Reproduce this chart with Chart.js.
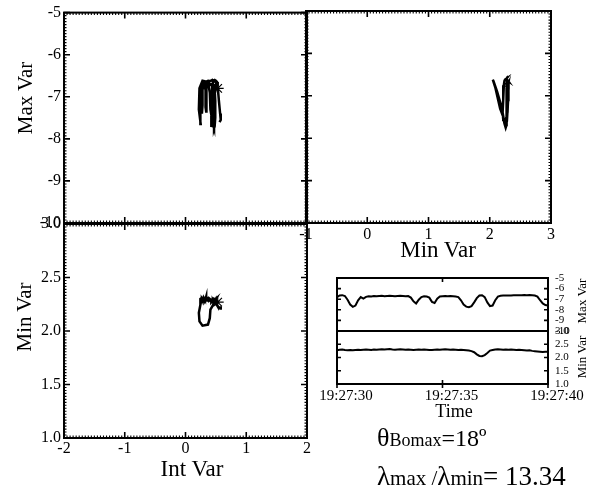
<!DOCTYPE html>
<html><head><meta charset="utf-8">
<script src="https://cdn.jsdelivr.net/npm/chart.js@4.4.1/dist/chart.umd.min.js"></script>
<style>
html,body{margin:0;padding:0;background:#fff;width:595px;height:495px;overflow:hidden;position:relative;}
canvas{position:absolute;left:0;top:0;}
.t{position:absolute;font-family:"Liberation Serif","Times New Roman",serif;color:#000;white-space:nowrap;line-height:1;}
.c{transform:translate(-50%,-50%);}
.r{transform:translate(-50%,-50%) rotate(-90deg);}
</style></head><body>
<canvas id="cTL" width="595" height="495"></canvas>
<canvas id="cTR" width="595" height="495"></canvas>
<canvas id="cBL" width="595" height="495"></canvas>
<canvas id="cI1" width="595" height="495"></canvas>
<canvas id="cI2" width="595" height="495"></canvas>

<div class="t r" style="left:25px;top:98px;font-size:21px;">Max Var</div>
<div class="t r" style="left:24px;top:317px;font-size:21px;">Min Var</div>
<div class="t c" style="left:192px;top:468px;font-size:23px;">Int Var</div>
<div class="t c" style="left:438px;top:249px;font-size:23px;">Min Var</div>
<div class="t r" style="left:581px;top:301px;font-size:13px;">Max Var</div>
<div class="t r" style="left:581px;top:357px;font-size:13px;">Min Var</div>
<div class="t c" style="left:454px;top:411px;font-size:18px;">Time</div>
<div class="t" style="left:377px;top:425px;"><span style="font-size:26px">θ</span><span style="font-size:18px">Bomax</span><span style="font-size:24px">=18º</span></div>
<div class="t" style="left:377px;top:463px;"><span style="font-size:27px">λ</span><span style="font-size:21px">max /</span><span style="font-size:27px">λ</span><span style="font-size:21px">min</span><span style="font-size:27px">= 13.34</span></div>

<script>
// ---- data ----
const timeSec = [0,0.125,0.25,0.375,0.5,0.625,0.75,0.875,1,1.125,1.25,1.375,1.5,1.625,1.75,1.875,2,2.125,2.25,2.375,2.5,2.625,2.75,2.875,3,3.125,3.25,3.375,3.5,3.625,3.75,3.875,4,4.125,4.25,4.375,4.5,4.625,4.75,4.875,5,5.125,5.25,5.375,5.5,5.625,5.75,5.875,6,6.125,6.25,6.375,6.5,6.625,6.75,6.875,7,7.125,7.25,7.375,7.5,7.625,7.75,7.875,8,8.125,8.25,8.375,8.5,8.625,8.75,8.875,9,9.125,9.25,9.375,9.5,9.625,9.75,9.875,10];
const maxVar = [-6.80,-6.65,-6.62,-6.70,-7.05,-7.50,-7.72,-7.60,-7.10,-6.80,
 -6.95,-6.78,-6.72,-6.75,-6.70,-6.72,-6.70,-6.68,-6.72,-6.70,
 -6.68,-6.70,-6.72,-6.70,-6.68,-6.70,-6.72,-6.70,-6.85,-7.20,
 -7.40,-7.05,-6.80,-6.72,-6.75,-6.85,-7.25,-7.35,-6.95,-6.75,
 -6.72,-6.70,-6.72,-6.70,-6.72,-6.75,-6.80,-7.10,-7.50,-7.70,
 -7.75,-7.65,-7.30,-6.90,-6.65,-6.62,-6.80,-7.30,-7.65,-7.60,
 -7.10,-6.75,-6.68,-6.66,-6.65,-6.64,-6.65,-6.63,-6.62,-6.63,
 -6.62,-6.60,-6.62,-6.60,-6.62,-6.65,-6.75,-7.10,-7.40,-7.55,
 -7.60];
const intVar = [0.53,0.50,0.47,0.44,0.43,0.42,0.43,0.44,0.45,0.46,
 0.48,0.50,0.49,0.47,0.45,0.42,0.40,0.38,0.36,0.35,
 0.34,0.33,0.32,0.31,0.30,0.30,0.29,0.29,0.28,0.28,
 0.27,0.27,0.28,0.30,0.32,0.33,0.33,0.34,0.34,0.35,
 0.36,0.38,0.40,0.42,0.45,0.47,0.48,0.49,0.49,0.48,
 0.47,0.45,0.41,0.40,0.37,0.28,0.23,0.22,0.25,0.24,
 0.25,0.27,0.29,0.30,0.31,0.32,0.34,0.36,0.38,0.40,
 0.42,0.44,0.46,0.48,0.50,0.52,0.53,0.55,0.57,0.58,
 0.56];
const minVar = [2.27,2.29,2.30,2.28,2.27,2.28,2.27,2.28,2.29,2.28,
 2.29,2.30,2.29,2.28,2.30,2.29,2.30,2.31,2.30,2.31,
 2.32,2.30,2.29,2.30,2.31,2.30,2.29,2.30,2.29,2.28,
 2.29,2.30,2.29,2.30,2.29,2.28,2.28,2.29,2.30,2.29,
 2.30,2.31,2.30,2.29,2.30,2.29,2.28,2.29,2.28,2.27,
 2.26,2.24,2.20,2.12,2.06,2.05,2.09,2.17,2.26,2.28,
 2.30,2.31,2.30,2.29,2.30,2.29,2.30,2.29,2.28,2.29,
 2.28,2.27,2.26,2.27,2.25,2.24,2.23,2.22,2.21,2.22,
 2.22];
// tick values / labels
const intTicks = [-2,-1,0,1,2];
const minHodoTicks = [-1,0,1,2,3];
const maxTicks = [-10,-9,-8,-7,-6,-5];
const minTicks = [1.0,1.5,2.0,2.5,3.0];
const timeTicks = [0,5,10];
const timeLabels = ['19:27:30','19:27:35','19:27:40'];

// ---- helpers ----
const F = '"Liberation Serif","Times New Roman",serif';
Chart.defaults.animation = false;
Chart.defaults.responsive = false;
Chart.defaults.events = [];
Chart.defaults.plugins.legend.display = false;
Chart.defaults.plugins.tooltip.enabled = false;
Chart.defaults.color = '#000';

const fixW = w => s => { s.width = w; };
const fixH = h => s => { s.height = h; };
const setTicks = arr => s => { s.ticks = arr.map(v => ({value: v})); };

const framePlugin = {
  id: 'frame',
  afterDatasetsDraw(chart, args, o) {
    if (!o || !o.axes) return;
    const {ctx, chartArea: a} = chart;
    ctx.save();
    ctx.strokeStyle = '#000';
    for (const ax of o.axes) {
      const s = chart.scales[ax.id];
      const m = ax.majors;
      const list = [];
      for (let i = 0; i < m.length; i++) {
        list.push([m[i], ax.major, true]);
        if (i < m.length - 1 && ax.minor) {
          for (let k = 1; k < ax.minor; k++) list.push([m[i] + (m[i+1]-m[i])*k/ax.minor, ax.minorLen, false]);
        }
      }
      for (const [v, len, isMaj] of list) {
        const p = s.getPixelForValue(v);
        ctx.lineWidth = isMaj ? 1.6 : 1.1;
        ctx.beginPath();
        for (const side of ax.sides) {
          if (side === 'top') { ctx.moveTo(p, a.top); ctx.lineTo(p, a.top + len); }
          if (side === 'bottom') { ctx.moveTo(p, a.bottom); ctx.lineTo(p, a.bottom - len); }
          if (side === 'bottomOut' && isMaj) { ctx.moveTo(p, a.bottom); ctx.lineTo(p, a.bottom + len); }
          if (side === 'left') { ctx.moveTo(a.left, p); ctx.lineTo(a.left + len, p); }
          if (side === 'right') { ctx.moveTo(a.right, p); ctx.lineTo(a.right - len, p); }
        }
        ctx.stroke();
      }
    }
    ctx.lineWidth = o.lw || 2;
    ctx.strokeRect(a.left, a.top, a.right - a.left, a.bottom - a.top);
    ctx.restore();
  }
};
Chart.register(framePlugin);

const noGrid = {display: false, drawTicks: false};
const noBorder = {display: false};

function pts(xs, ys) { return xs.map((x, i) => ({x: x, y: ys[i]})); }
function lineDs(data, w) {
  return {type: 'scatter', data, showLine: true, borderColor: '#000', borderWidth: w, pointRadius: 0, tension: 0, fill: false};
}
function starDs(x, y) {
  return {type: 'scatter', data: [{x, y}], showLine: false, pointStyle: 'star', pointRadius: 6, borderColor: '#000', borderWidth: 1.2, backgroundColor: '#000'};
}

// ---- Top-left: Max Var vs Int Var ----
new Chart(document.getElementById('cTL'), {
  type: 'scatter',
  data: {datasets: [lineDs(pts(intVar, maxVar), 2.5), starDs(intVar[0], maxVar[0])]},
  options: {
    layout: {padding: {left: 0, top: 11, right: 288, bottom: 272}},
    scales: {
      x: {type: 'linear', min: -2, max: 2, display: false},
      y: {type: 'linear', min: -10, max: -5, position: 'left', afterFit: fixW(64), afterBuildTicks: setTicks(maxTicks),
          grid: noGrid, border: noBorder,
          ticks: {autoSkip: false, padding: 3, color: '#000', font: {family: F, size: 16}}}
    },
    plugins: {frame: {lw: 2, axes: [
      {id: 'x', majors: intTicks, minor: 20, major: 6, minorLen: 2.5, sides: ['top', 'bottom']},
      {id: 'y', majors: maxTicks, minor: 14, major: 6, minorLen: 2.5, sides: ['left', 'right']}
    ]}}
  }
});

// ---- Top-right: Max Var vs Min Var ----
new Chart(document.getElementById('cTR'), {
  type: 'scatter',
  data: {datasets: [lineDs(pts(minVar, maxVar), 2.5)]},
  options: {
    layout: {padding: {left: 306, top: 11, right: 44, bottom: 250}},
    scales: {
      x: {type: 'linear', min: -1, max: 3, position: 'bottom', afterFit: fixH(22), afterBuildTicks: setTicks(minHodoTicks),
          grid: noGrid, border: noBorder,
          ticks: {autoSkip: false, maxRotation: 0, padding: 2, color: '#000', font: {family: F, size: 16}}},
      y: {type: 'linear', min: -10, max: -5, display: false}
    },
    plugins: {frame: {lw: 2, axes: [
      {id: 'x', majors: minHodoTicks, minor: 20, major: 6, minorLen: 2.5, sides: ['top', 'bottom']},
      {id: 'y', majors: maxTicks, minor: 14, major: 6, minorLen: 2.5, sides: ['left', 'right']}
    ]}}
  }
});

// ---- Bottom-left: Min Var vs Int Var ----
new Chart(document.getElementById('cBL'), {
  type: 'scatter',
  data: {datasets: [lineDs(pts(intVar, minVar), 2.5), starDs(intVar[0], minVar[0])]},
  options: {
    layout: {padding: {left: 0, top: 224, right: 288, bottom: 35}},
    scales: {
      x: {type: 'linear', min: -2, max: 2, position: 'bottom', afterFit: fixH(22), afterBuildTicks: setTicks(intTicks),
          grid: noGrid, border: noBorder,
          ticks: {autoSkip: false, maxRotation: 0, padding: 1, color: '#000', font: {family: F, size: 16}}},
      y: {type: 'linear', min: 1, max: 3, position: 'left', afterFit: fixW(64), afterBuildTicks: setTicks(minTicks),
          grid: noGrid, border: noBorder,
          ticks: {autoSkip: false, padding: 3, color: '#000', font: {family: F, size: 16}, callback: v => Number(v).toFixed(1)}}
    },
    plugins: {frame: {lw: 2, axes: [
      {id: 'x', majors: intTicks, minor: 20, major: 6, minorLen: 2.5, sides: ['top', 'bottom']},
      {id: 'y', majors: minTicks, minor: 18, major: 6, minorLen: 2.5, sides: ['left', 'right']}
    ]}}
  }
});

// ---- Inset top: Max Var vs time ----
new Chart(document.getElementById('cI1'), {
  type: 'scatter',
  data: {datasets: [lineDs(pts(timeSec, maxVar), 2)]},
  options: {
    layout: {padding: {left: 337, top: 278, right: 25, bottom: 164}},
    scales: {
      x: {type: 'linear', min: 0, max: 10, display: false},
      y: {type: 'linear', min: -10, max: -5, position: 'right', afterFit: fixW(22), afterBuildTicks: setTicks(maxTicks),
          grid: noGrid, border: noBorder,
          ticks: {autoSkip: false, padding: 7, color: '#000', font: {family: F, size: 11}}}
    },
    plugins: {frame: {lw: 2, axes: [
      {id: 'x', majors: timeTicks, minor: 0, major: 4, minorLen: 0, sides: ['top']},
      {id: 'y', majors: maxTicks, minor: 0, major: 4, minorLen: 0, sides: ['left', 'right']}
    ]}}
  }
});

// ---- Inset bottom: Min Var vs time ----
new Chart(document.getElementById('cI2'), {
  type: 'scatter',
  data: {datasets: [lineDs(pts(timeSec, minVar), 2)]},
  options: {
    layout: {padding: {left: 337, top: 331, right: 25, bottom: 91}},
    scales: {
      x: {type: 'linear', min: 0, max: 10, position: 'bottom', afterFit: fixH(20), afterBuildTicks: setTicks(timeTicks),
          grid: noGrid, border: noBorder,
          ticks: {autoSkip: false, maxRotation: 0, padding: 3, labelOffset: 9, color: '#000', font: {family: F, size: 15},
                  callback: (v, i) => timeLabels[i]}},
      y: {type: 'linear', min: 1, max: 3, position: 'right', afterFit: fixW(22), afterBuildTicks: setTicks(minTicks),
          grid: noGrid, border: noBorder,
          ticks: {autoSkip: false, padding: 7, color: '#000', font: {family: F, size: 11}, callback: v => Number(v).toFixed(1)}}
    },
    plugins: {frame: {lw: 2, axes: [
      {id: 'x', majors: timeTicks, minor: 0, major: 4, minorLen: 0, sides: ['bottom', 'bottomOut']},
      {id: 'y', majors: minTicks, minor: 0, major: 4, minorLen: 0, sides: ['left', 'right']}
    ]}}
  }
});
</script>
</body></html>
